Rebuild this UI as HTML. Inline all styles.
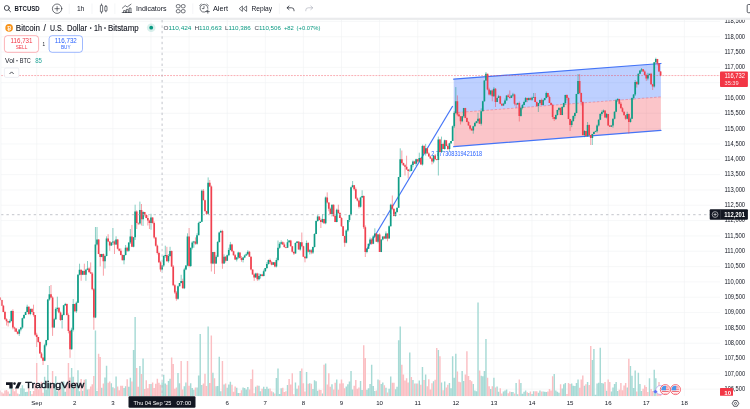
<!DOCTYPE html>
<html><head><meta charset="utf-8"><title>BTCUSD</title>
<style>html,body{margin:0;padding:0;background:#fff;width:750px;height:409px;overflow:hidden}svg{will-change:transform;opacity:0.999;filter:blur(0.35px)}svg text{font-family:"Liberation Sans",sans-serif}</style></head>
<body>
<svg width="750" height="409" viewBox="0 0 750 409" style="display:block;font-family:'Liberation Sans',sans-serif">
<rect width="750" height="409" fill="#fff"/>
<path d="M36.7 20V396.3M74.8 20V396.3M112.9 20V396.3M151 20V396.3M189.1 20V396.3M227.2 20V396.3M265.3 20V396.3M303.4 20V396.3M341.5 20V396.3M379.6 20V396.3M417.7 20V396.3M455.8 20V396.3M493.9 20V396.3M532 20V396.3M570.1 20V396.3M608.2 20V396.3M646.3 20V396.3M684.4 20V396.3M1 21.38H720M1 36.7H720M1 52.03H720M1 67.35H720M1 82.67H720M1 98H720M1 113.33H720M1 128.65H720M1 143.97H720M1 159.3H720M1 174.62H720M1 189.95H720M1 205.27H720M1 220.6H720M1 235.93H720M1 251.25H720M1 266.57H720M1 281.9H720M1 297.22H720M1 312.55H720M1 327.88H720M1 343.2H720M1 358.52H720M1 373.85H720M1 389.17H720" stroke="#f0f1f4" stroke-width="0.6" fill="none"/>
<path d="M8.99 396.3V393.65h1.44V396.3zM10.58 396.3V385.81h1.44V396.3zM18.52 396.3V394.13h1.44V396.3zM20.11 396.3V388.21h1.44V396.3zM21.7 396.3V385.33h1.44V396.3zM23.28 396.3V388.38h1.44V396.3zM24.87 396.3V391.89h1.44V396.3zM26.46 396.3V391.64h1.44V396.3zM29.63 396.3V391.09h1.44V396.3zM43.92 396.3V376.85h1.44V396.3zM45.51 396.3V389.45h1.44V396.3zM47.09 396.3V365h1.44V396.3zM48.68 396.3V383.42h1.44V396.3zM53.44 396.3V382.95h1.44V396.3zM55.03 396.3V376.18h1.44V396.3zM56.62 396.3V391.3h1.44V396.3zM61.38 396.3V383.49h1.44V396.3zM62.97 396.3V381.47h1.44V396.3zM64.56 396.3V391.86h1.44V396.3zM70.91 396.3V368h1.44V396.3zM72.49 396.3V376.84h1.44V396.3zM75.67 396.3V385.06h1.44V396.3zM77.26 396.3V370.25h1.44V396.3zM78.84 396.3V391.29h1.44V396.3zM82.02 396.3V390.85h1.44V396.3zM85.19 396.3V379.18h1.44V396.3zM86.78 396.3V389.49h1.44V396.3zM94.72 396.3V330.5h1.44V396.3zM96.31 396.3V390.96h1.44V396.3zM101.07 396.3V387.85h1.44V396.3zM104.24 396.3V377.45h1.44V396.3zM105.83 396.3V365.86h1.44V396.3zM110.59 396.3V383.28h1.44V396.3zM112.18 396.3V387.32h1.44V396.3zM115.36 396.3V376.42h1.44V396.3zM123.29 396.3V387.89h1.44V396.3zM124.88 396.3V386.14h1.44V396.3zM128.06 396.3V386.7h1.44V396.3zM129.64 396.3V377.66h1.44V396.3zM132.82 396.3V350h1.44V396.3zM134.41 396.3V317h1.44V396.3zM139.17 396.3V366h1.44V396.3zM142.34 396.3V358.6h1.44V396.3zM150.28 396.3V383.93h1.44V396.3zM161.39 396.3V382.26h1.44V396.3zM162.98 396.3V374.87h1.44V396.3zM164.57 396.3V383.53h1.44V396.3zM167.74 396.3V380.94h1.44V396.3zM169.33 396.3V378.83h1.44V396.3zM177.27 396.3V372.91h1.44V396.3zM178.86 396.3V383.26h1.44V396.3zM183.62 396.3V386.21h1.44V396.3zM185.21 396.3V382.52h1.44V396.3zM189.97 396.3V383.14h1.44V396.3zM191.56 396.3V387.9h1.44V396.3zM193.14 396.3V389.72h1.44V396.3zM196.32 396.3V387.46h1.44V396.3zM197.91 396.3V375.42h1.44V396.3zM199.49 396.3V334h1.44V396.3zM201.08 396.3V385.06h1.44V396.3zM207.43 396.3V326.4h1.44V396.3zM212.19 396.3V372.75h1.44V396.3zM215.37 396.3V386.33h1.44V396.3zM216.96 396.3V385.92h1.44V396.3zM218.54 396.3V356.7h1.44V396.3zM220.13 396.3V391.32h1.44V396.3zM223.31 396.3V384.52h1.44V396.3zM226.48 396.3V387.76h1.44V396.3zM228.07 396.3V384.43h1.44V396.3zM229.66 396.3V381.8h1.44V396.3zM236.01 396.3V387.65h1.44V396.3zM237.59 396.3V392.98h1.44V396.3zM242.36 396.3V387.6h1.44V396.3zM243.94 396.3V387.92h1.44V396.3zM245.53 396.3V389.42h1.44V396.3zM247.12 396.3V387h1.44V396.3zM255.06 396.3V386.68h1.44V396.3zM258.23 396.3V385.76h1.44V396.3zM259.82 396.3V391.3h1.44V396.3zM262.99 396.3V386.66h1.44V396.3zM264.58 396.3V389.09h1.44V396.3zM266.17 396.3V386.7h1.44V396.3zM267.76 396.3V388.83h1.44V396.3zM272.52 396.3V392.29h1.44V396.3zM275.69 396.3V378h1.44V396.3zM277.28 396.3V368.4h1.44V396.3zM278.87 396.3V393.89h1.44V396.3zM280.46 396.3V388.15h1.44V396.3zM286.81 396.3V384.99h1.44V396.3zM294.74 396.3V382.45h1.44V396.3zM296.33 396.3V388.85h1.44V396.3zM299.51 396.3V370.9h1.44V396.3zM305.86 396.3V372h1.44V396.3zM309.03 396.3V383.2h1.44V396.3zM312.21 396.3V389.11h1.44V396.3zM313.79 396.3V380.34h1.44V396.3zM315.38 396.3V381.24h1.44V396.3zM316.97 396.3V390.77h1.44V396.3zM321.73 396.3V393.4h1.44V396.3zM324.91 396.3V363.5h1.44V396.3zM331.26 396.3V384.36h1.44V396.3zM336.02 396.3V379.4h1.44V396.3zM345.54 396.3V386.5h1.44V396.3zM347.13 396.3V384.28h1.44V396.3zM348.72 396.3V381.51h1.44V396.3zM350.31 396.3V370.9h1.44V396.3zM351.89 396.3V389.4h1.44V396.3zM359.83 396.3V380.9h1.44V396.3zM361.42 396.3V390.09h1.44V396.3zM366.18 396.3V389.71h1.44V396.3zM367.77 396.3V388.25h1.44V396.3zM369.36 396.3V383.94h1.44V396.3zM370.94 396.3V364.7h1.44V396.3zM372.53 396.3V386.02h1.44V396.3zM374.12 396.3V391.01h1.44V396.3zM377.29 396.3V379.43h1.44V396.3zM380.47 396.3V383.97h1.44V396.3zM382.06 396.3V382.44h1.44V396.3zM385.23 396.3V387.75h1.44V396.3zM388.41 396.3V388.8h1.44V396.3zM389.99 396.3V376.51h1.44V396.3zM394.76 396.3V389.34h1.44V396.3zM396.34 396.3V386.87h1.44V396.3zM397.93 396.3V340.3h1.44V396.3zM399.52 396.3V326.4h1.44V396.3zM409.04 396.3V352.5h1.44V396.3zM412.22 396.3V379.99h1.44V396.3zM415.39 396.3V383.42h1.44V396.3zM418.57 396.3V380.58h1.44V396.3zM421.74 396.3V366.88h1.44V396.3zM424.92 396.3V374.5h1.44V396.3zM432.86 396.3V381.23h1.44V396.3zM437.62 396.3V350h1.44V396.3zM440.79 396.3V382.59h1.44V396.3zM443.97 396.3V381.58h1.44V396.3zM448.73 396.3V383.02h1.44V396.3zM450.32 396.3V388.13h1.44V396.3zM451.91 396.3V356.2h1.44V396.3zM453.49 396.3V377.67h1.44V396.3zM455.08 396.3V353.7h1.44V396.3zM461.43 396.3V370.9h1.44V396.3zM463.02 396.3V381.04h1.44V396.3zM472.54 396.3V383.98h1.44V396.3zM474.13 396.3V390.51h1.44V396.3zM475.72 396.3V391.13h1.44V396.3zM477.31 396.3V302.4h1.44V396.3zM480.48 396.3V375.74h1.44V396.3zM482.07 396.3V376.25h1.44V396.3zM483.66 396.3V371h1.44V396.3zM485.24 396.3V339h1.44V396.3zM490.01 396.3V388.94h1.44V396.3zM493.18 396.3V377.7h1.44V396.3zM496.36 396.3V386.45h1.44V396.3zM497.94 396.3V391.67h1.44V396.3zM502.71 396.3V391.49h1.44V396.3zM504.29 396.3V390.59h1.44V396.3zM505.88 396.3V389.62h1.44V396.3zM510.64 396.3V392.1h1.44V396.3zM512.23 396.3V391.88h1.44V396.3zM515.41 396.3V383h1.44V396.3zM517 396.3V394.26h1.44V396.3zM520.17 396.3V383h1.44V396.3zM521.76 396.3V393.67h1.44V396.3zM523.35 396.3V391.67h1.44V396.3zM524.93 396.3V390.44h1.44V396.3zM528.11 396.3V393.06h1.44V396.3zM531.28 396.3V393.94h1.44V396.3zM532.87 396.3V391.29h1.44V396.3zM537.63 396.3V392.83h1.44V396.3zM539.22 396.3V390.55h1.44V396.3zM542.39 396.3V391.42h1.44V396.3zM543.98 396.3V391.82h1.44V396.3zM545.57 396.3V392.1h1.44V396.3zM553.51 396.3V374.1h1.44V396.3zM555.1 396.3V390.45h1.44V396.3zM556.68 396.3V391.63h1.44V396.3zM558.27 396.3V392.69h1.44V396.3zM561.45 396.3V388.44h1.44V396.3zM563.03 396.3V384.18h1.44V396.3zM564.62 396.3V383h1.44V396.3zM570.97 396.3V383.58h1.44V396.3zM572.56 396.3V385.64h1.44V396.3zM574.14 396.3V385.99h1.44V396.3zM575.73 396.3V383h1.44V396.3zM577.32 396.3V379.39h1.44V396.3zM583.67 396.3V385.65h1.44V396.3zM586.85 396.3V381.99h1.44V396.3zM591.61 396.3V360h1.44V396.3zM593.2 396.3V349h1.44V396.3zM594.78 396.3V394.67h1.44V396.3zM596.37 396.3V383.48h1.44V396.3zM597.96 396.3V382.73h1.44V396.3zM599.54 396.3V347.7h1.44V396.3zM601.13 396.3V383h1.44V396.3zM602.72 396.3V383.47h1.44V396.3zM605.89 396.3V390.69h1.44V396.3zM610.66 396.3V391.56h1.44V396.3zM612.25 396.3V387.61h1.44V396.3zM613.83 396.3V384h1.44V396.3zM615.42 396.3V382h1.44V396.3zM617.01 396.3V391.01h1.44V396.3zM626.53 396.3V387.59h1.44V396.3zM629.71 396.3V366h1.44V396.3zM631.29 396.3V375.8h1.44V396.3zM632.88 396.3V388.01h1.44V396.3zM634.47 396.3V370.5h1.44V396.3zM637.64 396.3V372.7h1.44V396.3zM639.23 396.3V384h1.44V396.3zM640.82 396.3V391h1.44V396.3zM648.76 396.3V378.3h1.44V396.3zM653.52 396.3V369.7h1.44V396.3zM655.11 396.3V378.3h1.44V396.3z" fill="#a6dad5"/>
<path d="M-0.53 396.3V390.38h1.44V396.3zM1.06 396.3V392.17h1.44V396.3zM2.64 396.3V393.41h1.44V396.3zM4.23 396.3V390.52h1.44V396.3zM5.82 396.3V390.09h1.44V396.3zM7.41 396.3V391.55h1.44V396.3zM12.17 396.3V389.02h1.44V396.3zM13.76 396.3V391.21h1.44V396.3zM15.35 396.3V388.66h1.44V396.3zM16.93 396.3V393.41h1.44V396.3zM28.05 396.3V388.14h1.44V396.3zM31.22 396.3V394.37h1.44V396.3zM32.81 396.3V391.05h1.44V396.3zM34.39 396.3V384.04h1.44V396.3zM35.98 396.3V363h1.44V396.3zM37.57 396.3V389.34h1.44V396.3zM39.16 396.3V388.7h1.44V396.3zM40.74 396.3V381.66h1.44V396.3zM42.33 396.3V392.84h1.44V396.3zM50.27 396.3V385.96h1.44V396.3zM51.86 396.3V371h1.44V396.3zM58.21 396.3V389.15h1.44V396.3zM59.79 396.3V387.17h1.44V396.3zM66.14 396.3V384.38h1.44V396.3zM67.73 396.3V363h1.44V396.3zM69.32 396.3V377.41h1.44V396.3zM74.08 396.3V382.18h1.44V396.3zM80.43 396.3V378.93h1.44V396.3zM83.61 396.3V379.83h1.44V396.3zM88.37 396.3V389.33h1.44V396.3zM89.96 396.3V386.5h1.44V396.3zM91.54 396.3V384.23h1.44V396.3zM93.13 396.3V376.12h1.44V396.3zM97.89 396.3V353.7h1.44V396.3zM99.48 396.3V357h1.44V396.3zM102.66 396.3V383.49h1.44V396.3zM107.42 396.3V382.73h1.44V396.3zM109.01 396.3V381.49h1.44V396.3zM113.77 396.3V388.37h1.44V396.3zM116.94 396.3V386.48h1.44V396.3zM118.53 396.3V390.17h1.44V396.3zM120.12 396.3V385.82h1.44V396.3zM121.71 396.3V385.78h1.44V396.3zM126.47 396.3V379.21h1.44V396.3zM131.23 396.3V381.6h1.44V396.3zM136 396.3V368h1.44V396.3zM137.58 396.3V386.64h1.44V396.3zM140.76 396.3V373.93h1.44V396.3zM143.93 396.3V389.04h1.44V396.3zM145.52 396.3V380.3h1.44V396.3zM147.11 396.3V388.32h1.44V396.3zM148.69 396.3V383.96h1.44V396.3zM151.87 396.3V382.54h1.44V396.3zM153.46 396.3V387.97h1.44V396.3zM155.04 396.3V383.79h1.44V396.3zM156.63 396.3V378.77h1.44V396.3zM158.22 396.3V382.77h1.44V396.3zM159.81 396.3V384.76h1.44V396.3zM166.16 396.3V384.79h1.44V396.3zM170.92 396.3V357.4h1.44V396.3zM172.51 396.3V364h1.44V396.3zM174.09 396.3V388.87h1.44V396.3zM175.68 396.3V387.52h1.44V396.3zM180.44 396.3V361h1.44V396.3zM182.03 396.3V389.53h1.44V396.3zM186.79 396.3V361h1.44V396.3zM188.38 396.3V385.67h1.44V396.3zM194.73 396.3V387.62h1.44V396.3zM202.67 396.3V383.52h1.44V396.3zM204.26 396.3V373.85h1.44V396.3zM205.84 396.3V385.97h1.44V396.3zM209.02 396.3V382.97h1.44V396.3zM210.61 396.3V335.4h1.44V396.3zM213.78 396.3V378.35h1.44V396.3zM221.72 396.3V361h1.44V396.3zM224.89 396.3V383.48h1.44V396.3zM231.24 396.3V384.87h1.44V396.3zM232.83 396.3V391.85h1.44V396.3zM234.42 396.3V386.49h1.44V396.3zM239.18 396.3V392.91h1.44V396.3zM240.77 396.3V390.29h1.44V396.3zM248.71 396.3V389.54h1.44V396.3zM250.29 396.3V379h1.44V396.3zM251.88 396.3V369.6h1.44V396.3zM253.47 396.3V393.19h1.44V396.3zM256.64 396.3V385.56h1.44V396.3zM261.41 396.3V388.83h1.44V396.3zM269.34 396.3V388.5h1.44V396.3zM270.93 396.3V391.15h1.44V396.3zM274.11 396.3V393.54h1.44V396.3zM282.04 396.3V387.87h1.44V396.3zM283.63 396.3V392.06h1.44V396.3zM285.22 396.3V391.15h1.44V396.3zM288.39 396.3V379h1.44V396.3zM289.98 396.3V384.58h1.44V396.3zM291.57 396.3V373.3h1.44V396.3zM293.16 396.3V394.3h1.44V396.3zM297.92 396.3V385.39h1.44V396.3zM301.09 396.3V368.4h1.44V396.3zM302.68 396.3V383.26h1.44V396.3zM304.27 396.3V391.57h1.44V396.3zM307.44 396.3V383.84h1.44V396.3zM310.62 396.3V383.83h1.44V396.3zM318.56 396.3V389.79h1.44V396.3zM320.14 396.3V389.94h1.44V396.3zM323.32 396.3V364.7h1.44V396.3zM326.49 396.3V384.62h1.44V396.3zM328.08 396.3V373.3h1.44V396.3zM329.67 396.3V386.66h1.44V396.3zM332.84 396.3V389.61h1.44V396.3zM334.43 396.3V382.86h1.44V396.3zM337.61 396.3V389.69h1.44V396.3zM339.19 396.3V383.61h1.44V396.3zM340.78 396.3V379.4h1.44V396.3zM342.37 396.3V383.14h1.44V396.3zM343.96 396.3V388.24h1.44V396.3zM353.48 396.3V385.67h1.44V396.3zM355.07 396.3V379.99h1.44V396.3zM356.66 396.3V388.67h1.44V396.3zM358.24 396.3V387.6h1.44V396.3zM363.01 396.3V345.2h1.44V396.3zM364.59 396.3V358h1.44V396.3zM375.71 396.3V390.55h1.44V396.3zM378.88 396.3V380.26h1.44V396.3zM383.64 396.3V385.36h1.44V396.3zM386.82 396.3V392.41h1.44V396.3zM391.58 396.3V382.77h1.44V396.3zM393.17 396.3V382.76h1.44V396.3zM401.11 396.3V364.7h1.44V396.3zM402.69 396.3V374.5h1.44V396.3zM404.28 396.3V380.55h1.44V396.3zM405.87 396.3V378.15h1.44V396.3zM407.46 396.3V382.58h1.44V396.3zM410.63 396.3V377h1.44V396.3zM413.81 396.3V383.43h1.44V396.3zM416.98 396.3V383.4h1.44V396.3zM420.16 396.3V384.69h1.44V396.3zM423.33 396.3V380.12h1.44V396.3zM426.51 396.3V386.29h1.44V396.3zM428.09 396.3V379.19h1.44V396.3zM429.68 396.3V389.49h1.44V396.3zM431.27 396.3V383.29h1.44V396.3zM434.44 396.3V379.74h1.44V396.3zM436.03 396.3V348.1h1.44V396.3zM439.21 396.3V356.2h1.44V396.3zM442.38 396.3V390.15h1.44V396.3zM445.56 396.3V387.51h1.44V396.3zM447.14 396.3V384.77h1.44V396.3zM456.67 396.3V371.6h1.44V396.3zM458.26 396.3V381.77h1.44V396.3zM459.84 396.3V382.27h1.44V396.3zM464.61 396.3V374.39h1.44V396.3zM466.19 396.3V351.3h1.44V396.3zM467.78 396.3V376h1.44V396.3zM469.37 396.3V379.88h1.44V396.3zM470.96 396.3V381.36h1.44V396.3zM478.89 396.3V370.4h1.44V396.3zM486.83 396.3V377.7h1.44V396.3zM488.42 396.3V386.18h1.44V396.3zM491.59 396.3V386.17h1.44V396.3zM494.77 396.3V387.48h1.44V396.3zM499.53 396.3V388.2h1.44V396.3zM501.12 396.3V393.53h1.44V396.3zM507.47 396.3V393.35h1.44V396.3zM509.06 396.3V391.62h1.44V396.3zM513.82 396.3V393.39h1.44V396.3zM518.58 396.3V379.5h1.44V396.3zM526.52 396.3V392.36h1.44V396.3zM529.7 396.3V391.4h1.44V396.3zM534.46 396.3V391.37h1.44V396.3zM536.04 396.3V391.17h1.44V396.3zM540.81 396.3V391.53h1.44V396.3zM547.16 396.3V391.62h1.44V396.3zM548.75 396.3V389h1.44V396.3zM550.33 396.3V390.44h1.44V396.3zM551.92 396.3V376.3h1.44V396.3zM559.86 396.3V384.35h1.44V396.3zM566.21 396.3V393.92h1.44V396.3zM567.79 396.3V383h1.44V396.3zM569.38 396.3V384.02h1.44V396.3zM578.91 396.3V387.71h1.44V396.3zM580.5 396.3V379.5h1.44V396.3zM582.08 396.3V375.4h1.44V396.3zM585.26 396.3V384.16h1.44V396.3zM588.43 396.3V385.06h1.44V396.3zM590.02 396.3V346h1.44V396.3zM604.31 396.3V382h1.44V396.3zM607.48 396.3V379.5h1.44V396.3zM609.07 396.3V382h1.44V396.3zM618.6 396.3V389.75h1.44V396.3zM620.18 396.3V383h1.44V396.3zM621.77 396.3V390.28h1.44V396.3zM623.36 396.3V385.51h1.44V396.3zM624.94 396.3V383h1.44V396.3zM628.12 396.3V358.7h1.44V396.3zM636.06 396.3V391.62h1.44V396.3zM642.41 396.3V388.66h1.44V396.3zM644 396.3V385.23h1.44V396.3zM645.58 396.3V387h1.44V396.3zM647.17 396.3V392h1.44V396.3zM650.35 396.3V389h1.44V396.3zM651.93 396.3V391h1.44V396.3zM656.69 396.3V391.5h1.44V396.3zM658.28 396.3V382h1.44V396.3zM659.87 396.3V389h1.44V396.3z" fill="#fbbfc3"/>
<path d="M453.7 79.1L660.9 63.5L660.9 96.9L453.7 112.8z" fill="#2962ff" fill-opacity="0.3"/>
<path d="M453.7 112.8L660.9 96.9L660.9 130.4L453.7 146.6z" fill="#f23645" fill-opacity="0.29"/>
<path d="M453.7 112.8L660.9 96.9" stroke="#f23645" stroke-opacity="0.5" stroke-width="0.7" stroke-dasharray="2.6 1.5" fill="none"/>
<path d="M453.7 79.1L660.9 63.5M453.7 146.6L660.9 130.4" stroke="#4474f7" stroke-width="1.25" fill="none" stroke-linecap="round"/>
<path d="M365.8 251L452.7 106" stroke="#4474f7" stroke-width="1.2" fill="none"/>
<text x="431.3" y="155.7" font-size="6.3" fill="#2962ff" textLength="50.8" lengthAdjust="spacingAndGlyphs">2.777308319421618</text>
<path d="M9.71 319.33V323.26M11.3 310.49V321.5M19.24 329.29V335.9M20.83 326.94V331.32M22.41 317.64V328.8M24 314.38V318.94M25.59 311.66V315.11M27.18 304.7V312.25M30.35 308.38V315.22M44.64 343.76V361.16M46.23 339.88V346.5M47.81 298.88V340.61M49.4 286V300.76M54.16 317.84V327.84M55.75 307.46V319.88M57.34 296.7V311.42M62.1 313.9V328.5M63.69 304.95V315.43M65.28 302.8V305.82M71.63 327.73V349.83M73.21 299V331.51M76.39 301.49V312.91M77.98 274.15V302.95M79.56 263.7V275.35M82.74 270.34V275.11M85.91 268.92V280.8M87.5 261V270.24M95.44 227V318.13M97.03 227V245.46M101.79 253.82V257.28M104.96 255.24V268.5M106.55 236.39V256.32M111.31 242.16V245.99M112.9 228V245.06M116.08 236.3V244.84M124.01 254.77V264.3M125.6 244.97V255.49M128.78 242.43V251.75M130.36 229V243.99M133.54 236.96V247.32M135.13 204.7V239.98M139.89 201.6V224.79M143.06 211.2V226M151 213.8V229.7M162.11 265.5V270.74M163.7 255.33V267.09M165.29 245.7V257.66M168.46 254.13V262.71M170.05 246.8V256.7M177.99 285.46V299.72M179.58 282.98V286.32M181.16 274.8V283.36M184.34 267.75V289.12M185.93 265.18V270.21M187.51 233.3V266.33M190.69 247.74V267.04M192.28 241.11V249.41M193.86 240.83V247.8M197.04 233.24V244.77M198.63 221.77V235.21M200.21 221.51V223.03M201.8 189.5V221.93M208.15 177.4V214.77M212.91 251.99V264.21M216.09 255.14V264.04M217.68 240.98V257.27M219.26 231.6V242.67M220.85 229.8V232.62M224.03 254.34V263.73M227.2 254.58V260.98M228.79 247.77V256.18M230.38 241.9V250.46M236.73 257.05V261.48M238.31 251.7V258.81M243.08 257.03V262.42M244.66 254.57V258.19M246.25 252.41V255.62M247.84 250.2V255.2M255.78 272.71V277.7M258.95 273.33V280.44M260.54 273.86V278.59M263.71 269.52V276.43M265.3 267.93V271.72M266.89 261.96V269.03M268.48 259.58V264.6M273.24 262.01V264.88M276.41 257.78V267.44M278 240.5V261.25M279.59 242.1V248.79M281.18 240.38V244.61M287.53 239V247.92M289.12 240.04V242.58M295.46 242.37V253.5M297.05 241.29V243.16M300.23 242.07V250.66M306.58 240.5V258.36M309.75 249.12V254.43M312.93 246.62V253.97M314.51 233.24V247.52M316.1 220.5V234.18M317.69 215.02V221.71M322.45 214V223.08M325.63 196.5V224.27M331.98 204.61V216.5M336.74 208.63V222.29M346.26 229.35V243.33M347.85 220.1V231.86M349.44 214.56V222.11M351.03 186.52V215.57M352.61 181V187.25M360.55 196.72V207.64M362.14 190.3V197.55M366.9 248.17V253.3M368.49 243.67V249.05M370.08 237.5V244.4M373.25 235.19V244.21M374.84 228.3V237.58M378.01 234.01V243.29M381.19 239.4V252.21M382.78 236.44V240.36M385.95 231.4V239.27M389.13 225.32V238.64M390.71 203.7V226.5M395.48 211.54V216.61M397.06 207.76V212.85M398.65 176.86V207.87M400.24 148.3V177.29M409.76 168.68V171.32M411.35 163.9V171.12M412.94 160.38V167.38M416.11 158.7V166.04M419.29 152.7V162.45M422.46 144.7V165.58M425.64 143.9V155.62M433.58 154.93V163.25M438.34 136.6V175.5M441.51 136.6V152.72M444.69 139.62V149.81M449.45 142.68V151.28M451.04 141V143.99M452.63 125.55V141.04M454.21 111.15V127.99M455.8 87.1V114.12M462.15 116.08V122.29M463.74 107.88V117.64M473.26 125.73V133.7M474.85 121.96V126.55M476.44 120.91V123.42M478.03 112.9V123.3M481.2 108.41V125.57M482.79 100.78V111.37M484.38 80.35V101.71M485.96 72V80.87M490.73 90.4V95.63M493.9 87.1V96.93M497.08 97.49V102.1M498.66 94.89V98.03M503.43 102.82V106.04M505.01 98.54V104.25M506.6 95.25V100.55M511.36 95.48V98.01M512.95 92.82V96.94M517.72 102.55V104.97M520.89 106.51V116.57M522.48 103.98V109.36M524.07 100.78V105.34M525.65 97V102.43M528.83 97.48V100.67M532 96.69V100.87M533.59 93V97.95M538.35 102.88V112M539.94 99.65V104.05M543.12 99.15V105.76M544.7 97.93V100.75M546.29 91.6V98.38M555.82 114.45V120M557.4 109.73V115.61M558.99 107V111.57M562.17 106.15V115.16M563.75 102.69V107.66M565.34 94.7V104.66M571.69 119.76V127.2M573.28 115.39V121.8M574.87 112.38V118.63M576.45 93.8V113.25M578.04 74V94.37M584.39 130.08V137.25M587.57 122V136.84M592.33 133.83V145M593.92 131.51V134.14M595.5 130.64V132.15M597.09 124.45V132.76M598.68 119.33V126.56M600.26 113.02V120.14M601.85 110.44V115.71M603.44 109.5V112.89M606.62 113V118.47M611.38 124.92V127.07M612.97 118.66V127.74M614.55 111.38V119.38M616.14 98.96V112.16M617.73 98V101.88M627.25 111.71V119.37M630.43 117.64V122.6M632.01 97.43V118.98M633.6 93.97V99.55M635.19 80V96.04M638.37 73.4V85.06M639.95 70.32V74.2M641.54 68V71.98M647.89 72.79V80.38M649.48 73.76V75.42M654.24 62.2V87.53M655.83 57.7V63.33" stroke="#0f9d86" stroke-width="0.5" fill="none"/>
<path d="M0.19 297.24V300.51M1.78 299.77V306.12M3.36 304.87V312.21M4.95 310.89V319.72M6.54 318.26V325.5M8.13 320.91V326.5M12.89 309.31V329.34M14.48 326.71V331.7M16.07 328.29V331.75M17.65 331.18V334.44M28.77 306.35V314.96M31.94 308.09V312.24M33.53 304.7V316.59M35.11 315.05V336.11M36.7 332.79V347M38.29 336.79V342.82M39.88 341.5V353.56M41.46 352.04V358.53M43.05 357.03V365M50.99 285V298.03M52.58 296.21V335.9M58.93 307.34V313.34M60.51 311.48V320.88M66.86 303.48V315.55M68.45 313.43V333.3M70.04 329.94V357.8M74.8 303.82V312.32M81.15 269.68V280.8M84.33 263.7V274.73M89.09 267.22V272.33M90.68 262.4V273.7M92.26 272V290.33M93.85 288.04V329.7M98.61 239.05V254.14M100.2 253.85V266.4M103.38 253.43V275.7M108.14 234.2V241.87M109.73 241.49V250.8M114.49 240.38V254M117.66 238.97V249.46M119.25 248.52V251.32M120.84 248.37V255.36M122.43 254.45V260.3M127.19 246.69V251.97M131.95 224.9V247.05M136.72 210.31V229M138.3 222.32V225.09M141.48 204V225.5M144.65 211.91V216.53M146.24 213.95V218.29M147.83 215.25V225.5M149.41 219.59V229M152.59 217.28V223.64M154.18 221.47V238.91M155.76 236.79V246.66M157.35 244.67V254.47M158.94 251.73V263.05M160.53 260.83V271.7M166.88 246.8V261.48M171.64 250.5V266.91M173.23 265V286.22M174.81 284.06V293.89M176.4 290.95V300.7M182.75 278.7V288.69M189.1 228V267.33M195.45 237.4V244.78M203.39 189.01V200.24M204.98 199.67V212M206.56 210.8V214.96M209.74 180V187.1M211.33 185.49V271.5M214.5 251.83V274M222.44 229.82V268.8M225.61 256.06V262.64M231.96 243.82V252.05M233.55 250.63V255.63M235.14 253.97V260.06M239.9 252.3V258.47M241.49 256.06V261.76M249.43 250.89V256.79M251.01 256.41V270.43M252.6 269.57V274.6M254.19 273.38V280.9M257.37 272.75V280.9M262.13 273.88V276.48M270.06 258.57V264.11M271.65 260.9V265.37M274.83 261.9V267.37M282.76 241.33V244.86M284.35 242.44V247.75M285.94 246.94V248.32M290.7 239.86V246.41M292.29 245.88V252.59M293.88 251.75V255M298.64 241.4V249.58M301.81 232.5V247.25M303.4 245.77V256.89M304.99 256.25V262.3M308.16 242.07V252.54M311.34 249.16V254.18M319.28 216.48V220.6M320.86 218.35V228M324.04 218.85V223.93M327.21 192.4V203.51M328.8 202.39V211.35M330.39 207.56V214.12M333.56 204.36V216.87M335.15 215.02V222.11M338.33 204.7V214.03M339.91 212.12V218.02M341.5 217.15V226.84M343.09 226.09V236.06M344.68 235.76V246.8M354.2 184.97V190.72M355.79 187.47V199.02M357.38 197.41V201.48M358.96 200.41V208.52M363.73 195.37V229.06M365.31 225.47V257M371.66 238.1V244.86M376.43 233.32V241.71M379.6 233.26V251.92M384.36 235.8V238.95M387.54 233.23V241.32M392.3 195.5V210.18M393.89 208.55V216.31M401.83 150.5V164.35M403.41 162.63V165.94M405 164.09V175.5M406.59 155.7V169.71M408.18 169.08V178.4M414.53 160.75V163.95M417.7 158.98V162.78M420.88 157.39V164.66M424.05 144.92V154.52M427.23 148.08V153.52M428.81 152.34V156.43M430.4 155.59V158.86M431.99 158.02V164.5M435.16 154.03V159.32M436.75 159.03V160.43M439.93 138.83V152.48M443.1 142.67V149.01M446.28 140.25V146.31M447.86 144.48V150.13M457.39 95.4V116.22M458.98 113.42V116.66M460.56 116.14V124.5M465.33 107.83V118.21M466.91 117.43V122.23M468.5 121.1V125.56M470.09 124.92V130.27M471.68 127.93V130.52M479.61 118V123.71M487.55 73.75V90.37M489.14 87.71V95.49M492.31 89.36V101.3M495.49 88.05V107M500.25 95.85V104.23M501.84 103.6V106.15M508.19 93.86V97.32M509.78 90.4V98.69M514.54 93.7V105.45M516.13 102.96V108M519.3 101.5V121.5M527.24 97.75V102.23M530.42 97.47V100.25M535.18 93V102.2M536.76 101.46V106.46M541.53 98.61V105.37M547.88 92.93V97.2M549.47 95.5V103.02M551.05 102.32V105.37M552.64 103.87V119.08M554.23 117.06V121M560.58 107.32V115.02M566.93 94.31V100.37M568.51 97.36V119.12M570.1 118.93V131M579.63 74V94.24M581.22 92.62V105.44M582.8 101.19V135.47M585.98 130.99V136.25M589.15 124.37V135.64M590.74 134.96V145M605.03 110.4V117.65M608.2 114.07V125.89M609.79 125.25V126.78M619.32 98.77V104.43M620.9 102.02V108.34M622.49 107.07V112.51M624.08 111.59V115.28M625.66 115.09V119.83M628.84 113.52V133.6M636.78 81.2V87.6M643.13 69.19V71.87M644.72 70.26V75.27M646.3 73.72V80.89M651.07 72.83V84.87M652.65 83.93V90M657.41 58.88V65.44M659 63.24V71.94M660.59 71.05V76.2" stroke="#f0414f" stroke-width="0.5" fill="none"/>
<path d="M8.86 321h1.7v1.4h-1.7zM10.45 311h1.7v10h-1.7zM18.39 329.6h1.7v4.2h-1.7zM19.98 327.6h1.7v2h-1.7zM21.56 318.2h1.7v9.4h-1.7zM23.15 315h1.7v3.2h-1.7zM24.74 312h1.7v3h-1.7zM26.33 306.8h1.7v5.2h-1.7zM29.5 308.9h1.7v5.1h-1.7zM43.79 345.2h1.7v15.6h-1.7zM45.38 340h1.7v5.2h-1.7zM46.96 299.5h1.7v40.5h-1.7zM48.55 294.3h1.7v5.2h-1.7zM53.31 319.3h1.7v8.3h-1.7zM54.9 308.9h1.7v10.4h-1.7zM56.49 307.7h1.7v1.2h-1.7zM61.25 315h1.7v4.9h-1.7zM62.84 305.2h1.7v9.8h-1.7zM64.43 304h1.7v1.2h-1.7zM70.78 329.7h1.7v19.5h-1.7zM72.36 304h1.7v25.7h-1.7zM75.54 302.8h1.7v8.5h-1.7zM77.13 274.7h1.7v28.1h-1.7zM78.72 269.8h1.7v4.9h-1.7zM81.89 271h1.7v3.7h-1.7zM85.06 269.8h1.7v4.9h-1.7zM86.65 268.6h1.7v1.2h-1.7zM94.59 244.6h1.7v72.9h-1.7zM96.18 239.4h1.7v5.2h-1.7zM100.94 254h1.7v3h-1.7zM104.11 256h1.7v5.2h-1.7zM105.7 238.4h1.7v17.6h-1.7zM110.47 242.5h1.7v3.1h-1.7zM112.05 241.5h1.7v1h-1.7zM115.23 239.4h1.7v5.2h-1.7zM123.16 255h1.7v5.2h-1.7zM124.75 247.7h1.7v7.3h-1.7zM127.93 242.5h1.7v8.3h-1.7zM129.51 236.5h1.7v6h-1.7zM132.69 237.3h1.7v9.4h-1.7zM134.28 211.4h1.7v25.9h-1.7zM139.04 210h1.7v13.6h-1.7zM142.22 212h1.7v7.3h-1.7zM150.15 217.5h1.7v5.5h-1.7zM161.26 265.5h1.7v4.1h-1.7zM162.85 256.1h1.7v9.4h-1.7zM164.44 255h1.7v1.1h-1.7zM167.61 256.1h1.7v5.2h-1.7zM169.2 250.9h1.7v5.2h-1.7zM177.14 286.2h1.7v12.5h-1.7zM178.73 283.1h1.7v3.1h-1.7zM180.31 281h1.7v2.1h-1.7zM183.49 269.6h1.7v18.7h-1.7zM185.08 265.5h1.7v4.1h-1.7zM186.66 236.4h1.7v29.1h-1.7zM189.84 247.8h1.7v18.2h-1.7zM191.43 242.6h1.7v5.2h-1.7zM193.01 241.5h1.7v1.1h-1.7zM196.19 235.2h1.7v8.5h-1.7zM197.78 223h1.7v12.2h-1.7zM199.36 221.7h1.7v1.3h-1.7zM200.95 190.8h1.7v30.9h-1.7zM207.3 182.8h1.7v30.9h-1.7zM212.06 252h1.7v11.4h-1.7zM215.24 256.7h1.7v6.7h-1.7zM216.83 241.9h1.7v14.8h-1.7zM218.41 232.5h1.7v9.4h-1.7zM220 231h1.7v1.5h-1.7zM223.18 256.7h1.7v6.7h-1.7zM226.35 255.3h1.7v5.4h-1.7zM227.94 250h1.7v5.3h-1.7zM229.53 244.6h1.7v5.4h-1.7zM235.88 257.5h1.7v1.9h-1.7zM237.47 252.6h1.7v4.9h-1.7zM242.23 257.5h1.7v2.5h-1.7zM243.81 255.5h1.7v2h-1.7zM245.4 254.3h1.7v1.2h-1.7zM246.99 251.8h1.7v2.5h-1.7zM254.93 273.6h1.7v4h-1.7zM258.1 276h1.7v3.3h-1.7zM259.69 274.5h1.7v1.5h-1.7zM262.86 271.2h1.7v4.8h-1.7zM264.45 268h1.7v3.2h-1.7zM266.04 263.9h1.7v4.1h-1.7zM267.63 259.9h1.7v4h-1.7zM272.39 262.3h1.7v2.4h-1.7zM275.56 259.9h1.7v6.5h-1.7zM277.15 247.8h1.7v12.1h-1.7zM278.74 243.8h1.7v4h-1.7zM280.33 242.2h1.7v1.6h-1.7zM286.68 242.2h1.7v5.6h-1.7zM288.26 240.5h1.7v1.7h-1.7zM294.61 243h1.7v10.5h-1.7zM296.2 241.4h1.7v1.6h-1.7zM299.38 242.2h1.7v7.2h-1.7zM305.73 243h1.7v15.3h-1.7zM308.9 250.2h1.7v1.6h-1.7zM312.08 247h1.7v5.6h-1.7zM313.66 234h1.7v13h-1.7zM315.25 221h1.7v13h-1.7zM316.84 216.5h1.7v4.5h-1.7zM321.6 219h1.7v3h-1.7zM324.78 197.5h1.7v25.7h-1.7zM331.13 204.7h1.7v9.2h-1.7zM335.89 209.8h1.7v12.3h-1.7zM345.41 230.4h1.7v12.3h-1.7zM347 220.1h1.7v10.3h-1.7zM348.59 215h1.7v5.1h-1.7zM350.18 187.2h1.7v27.8h-1.7zM351.76 185.2h1.7v2h-1.7zM359.7 197.5h1.7v9.2h-1.7zM361.29 196h1.7v1.5h-1.7zM366.05 248.8h1.7v3.1h-1.7zM367.64 243.7h1.7v5.1h-1.7zM369.23 239.6h1.7v4.1h-1.7zM372.4 236.5h1.7v7.2h-1.7zM373.99 233.4h1.7v3.1h-1.7zM377.16 234.5h1.7v7.2h-1.7zM380.34 239.6h1.7v12.3h-1.7zM381.93 236.5h1.7v3.1h-1.7zM385.1 233.4h1.7v5.2h-1.7zM388.28 226.3h1.7v12.3h-1.7zM389.86 204.7h1.7v21.6h-1.7zM394.63 212h1.7v4h-1.7zM396.21 207.8h1.7v4.2h-1.7zM397.8 177h1.7v30.8h-1.7zM399.39 159.3h1.7v17.7h-1.7zM408.91 170.75h1.7v0.5h-1.7zM410.5 165h1.7v6h-1.7zM412.09 161.5h1.7v3.5h-1.7zM415.26 159.3h1.7v4.4h-1.7zM418.44 157.9h1.7v3.6h-1.7zM421.61 146.1h1.7v18.4h-1.7zM424.79 148.3h1.7v5.2h-1.7zM432.73 155.7h1.7v5.8h-1.7zM437.49 139.5h1.7v20.5h-1.7zM440.66 144h1.7v8h-1.7zM443.84 140.3h1.7v8.7h-1.7zM448.6 143.2h1.7v5.8h-1.7zM450.19 141h1.7v2.2h-1.7zM451.78 126.2h1.7v14.8h-1.7zM453.36 112.9h1.7v13.3h-1.7zM454.95 101.3h1.7v11.6h-1.7zM461.3 116.2h1.7v5h-1.7zM462.89 107.9h1.7v8.3h-1.7zM472.41 126.2h1.7v4.2h-1.7zM474 122.9h1.7v3.3h-1.7zM475.59 121.2h1.7v1.7h-1.7zM477.18 118.7h1.7v2.5h-1.7zM480.35 111.2h1.7v12.5h-1.7zM481.94 101.3h1.7v9.9h-1.7zM483.53 80.5h1.7v20.8h-1.7zM485.11 73.8h1.7v6.7h-1.7zM489.88 90.4h1.7v4.2h-1.7zM493.05 88.8h1.7v7.5h-1.7zM496.23 98h1.7v4h-1.7zM497.81 96.3h1.7v1.7h-1.7zM502.58 103.7h1.7v1.7h-1.7zM504.16 100.4h1.7v3.3h-1.7zM505.75 95.4h1.7v5h-1.7zM510.51 95.5h1.7v2.5h-1.7zM512.1 94.6h1.7v0.9h-1.7zM516.87 103h1.7v1.6h-1.7zM520.04 108h1.7v8h-1.7zM521.63 105h1.7v3h-1.7zM523.22 102h1.7v3h-1.7zM524.8 98h1.7v4h-1.7zM527.98 98h1.7v2h-1.7zM531.15 97.7h1.7v2h-1.7zM532.74 97h1.7v0.7h-1.7zM537.5 103h1.7v3h-1.7zM539.09 100h1.7v3h-1.7zM542.26 100h1.7v5h-1.7zM543.85 98h1.7v2h-1.7zM545.44 93h1.7v5h-1.7zM554.97 115h1.7v4.1h-1.7zM556.55 110h1.7v5h-1.7zM558.14 108h1.7v2h-1.7zM561.32 107h1.7v8h-1.7zM562.9 103h1.7v4h-1.7zM564.49 95h1.7v8h-1.7zM570.84 121h1.7v4.1h-1.7zM572.43 116h1.7v5h-1.7zM574.01 113h1.7v3h-1.7zM575.6 94h1.7v19h-1.7zM577.19 81h1.7v13h-1.7zM583.54 131h1.7v4.1h-1.7zM586.72 125h1.7v11h-1.7zM591.48 134h1.7v4h-1.7zM593.07 132h1.7v2h-1.7zM594.65 131.3h1.7v0.7h-1.7zM596.24 125.6h1.7v5.7h-1.7zM597.83 119.8h1.7v5.8h-1.7zM599.41 114.1h1.7v5.7h-1.7zM601 112h1.7v2.1h-1.7zM602.59 110.6h1.7v1.4h-1.7zM605.76 114.1h1.7v3.4h-1.7zM610.53 125.6h1.7v1.1h-1.7zM612.12 118.7h1.7v6.9h-1.7zM613.7 111.8h1.7v6.9h-1.7zM615.29 100.3h1.7v11.5h-1.7zM616.88 99.1h1.7v1.2h-1.7zM626.4 114.1h1.7v4.6h-1.7zM629.58 118.7h1.7v3.4h-1.7zM631.16 98h1.7v20.7h-1.7zM632.75 94.5h1.7v3.5h-1.7zM634.34 81.9h1.7v12.6h-1.7zM637.51 73.8h1.7v10.4h-1.7zM639.1 70.4h1.7v3.4h-1.7zM640.69 69.2h1.7v1.2h-1.7zM647.04 75h1.7v3.4h-1.7zM648.63 73.8h1.7v1.2h-1.7zM653.39 62.3h1.7v24.2h-1.7zM654.98 58.9h1.7v3.4h-1.7z" fill="#0f9d86"/>
<path d="M-0.66 297.5h1.7v2.5h-1.7zM0.93 300h1.7v5.8h-1.7zM2.51 305.8h1.7v6.2h-1.7zM4.1 312h1.7v7.3h-1.7zM5.69 319.3h1.7v2h-1.7zM7.28 321.3h1.7v1.1h-1.7zM12.04 311h1.7v16.6h-1.7zM13.63 327.6h1.7v1h-1.7zM15.22 328.6h1.7v3.1h-1.7zM16.8 331.7h1.7v2.1h-1.7zM27.91 306.8h1.7v7.2h-1.7zM31.09 308.9h1.7v3.1h-1.7zM32.68 312h1.7v3.1h-1.7zM34.26 315.1h1.7v19.7h-1.7zM35.85 334.8h1.7v2.1h-1.7zM37.44 336.9h1.7v5.1h-1.7zM39.03 342h1.7v11.5h-1.7zM40.61 353.5h1.7v4.2h-1.7zM42.2 357.7h1.7v3.1h-1.7zM50.14 294.3h1.7v3.2h-1.7zM51.73 297.5h1.7v30.1h-1.7zM58.08 307.7h1.7v4.9h-1.7zM59.66 312.6h1.7v7.3h-1.7zM66.02 304h1.7v11h-1.7zM67.6 315h1.7v15.9h-1.7zM69.19 330.9h1.7v18.3h-1.7zM73.95 304h1.7v7.3h-1.7zM80.3 269.8h1.7v4.9h-1.7zM83.48 271h1.7v3.7h-1.7zM88.24 268.6h1.7v3.6h-1.7zM89.83 272.2h1.7v1.2h-1.7zM91.41 273.4h1.7v15.9h-1.7zM93 289.3h1.7v28.2h-1.7zM97.77 239.4h1.7v14.6h-1.7zM99.35 254h1.7v3h-1.7zM102.53 254h1.7v7.2h-1.7zM107.29 238.4h1.7v3.1h-1.7zM108.88 241.5h1.7v4.1h-1.7zM113.64 241.5h1.7v3.1h-1.7zM116.81 239.4h1.7v9.4h-1.7zM118.4 248.8h1.7v2h-1.7zM119.99 250.8h1.7v4.2h-1.7zM121.58 255h1.7v5.2h-1.7zM126.34 247.7h1.7v3.1h-1.7zM131.1 236.5h1.7v10.2h-1.7zM135.87 211.4h1.7v11.6h-1.7zM137.45 223h1.7v0.6h-1.7zM140.63 210h1.7v9.3h-1.7zM143.8 212h1.7v3h-1.7zM145.39 215h1.7v3h-1.7zM146.98 218h1.7v2.5h-1.7zM148.56 220.5h1.7v2.5h-1.7zM151.74 217.5h1.7v5.5h-1.7zM153.33 223h1.7v14.4h-1.7zM154.91 237.4h1.7v8.3h-1.7zM156.5 245.7h1.7v7.3h-1.7zM158.09 253h1.7v9.3h-1.7zM159.68 262.3h1.7v7.3h-1.7zM166.03 255h1.7v6.3h-1.7zM170.79 250.9h1.7v15.6h-1.7zM172.38 266.5h1.7v18.7h-1.7zM173.97 285.2h1.7v7.2h-1.7zM175.55 292.4h1.7v6.3h-1.7zM181.9 281h1.7v7.3h-1.7zM188.25 236.4h1.7v29.6h-1.7zM194.6 241.5h1.7v2.2h-1.7zM202.54 190.8h1.7v9.4h-1.7zM204.13 200.2h1.7v10.8h-1.7zM205.72 211h1.7v2.7h-1.7zM208.89 182.8h1.7v3.7h-1.7zM210.48 186.5h1.7v76.9h-1.7zM213.65 252h1.7v11.4h-1.7zM221.59 231h1.7v32.4h-1.7zM224.76 256.7h1.7v4h-1.7zM231.11 244.6h1.7v6.7h-1.7zM232.7 251.3h1.7v4h-1.7zM234.29 255.3h1.7v4.1h-1.7zM239.05 252.6h1.7v5.4h-1.7zM240.64 258h1.7v2h-1.7zM248.58 251.8h1.7v4.9h-1.7zM250.16 256.7h1.7v12.9h-1.7zM251.75 269.6h1.7v4.8h-1.7zM253.34 274.4h1.7v3.2h-1.7zM256.51 273.6h1.7v5.7h-1.7zM261.28 274.5h1.7v1.5h-1.7zM269.21 259.9h1.7v2.4h-1.7zM270.8 262.3h1.7v2.4h-1.7zM273.98 262.3h1.7v4.1h-1.7zM281.91 242.2h1.7v2.4h-1.7zM283.5 244.6h1.7v2.4h-1.7zM285.09 247h1.7v0.8h-1.7zM289.85 240.5h1.7v5.7h-1.7zM291.44 246.2h1.7v5.6h-1.7zM293.03 251.8h1.7v1.7h-1.7zM297.79 241.4h1.7v8h-1.7zM300.96 242.2h1.7v4h-1.7zM302.55 246.2h1.7v10.5h-1.7zM304.14 256.7h1.7v1.6h-1.7zM307.31 243h1.7v8.8h-1.7zM310.49 250.2h1.7v2.4h-1.7zM318.43 216.5h1.7v3.5h-1.7zM320.01 220h1.7v2h-1.7zM323.19 219h1.7v4.2h-1.7zM326.36 197.5h1.7v5.1h-1.7zM327.95 202.6h1.7v6.2h-1.7zM329.54 208.8h1.7v5.1h-1.7zM332.71 204.7h1.7v11.3h-1.7zM334.3 216h1.7v6.1h-1.7zM337.48 209.8h1.7v3.1h-1.7zM339.06 212.9h1.7v5.1h-1.7zM340.65 218h1.7v8.3h-1.7zM342.24 226.3h1.7v9.7h-1.7zM343.83 236h1.7v6.7h-1.7zM353.35 185.2h1.7v4.1h-1.7zM354.94 189.3h1.7v9.2h-1.7zM356.53 198.5h1.7v2.1h-1.7zM358.11 200.6h1.7v6.1h-1.7zM362.88 196h1.7v31.3h-1.7zM364.46 227.3h1.7v24.6h-1.7zM370.81 239.6h1.7v4.1h-1.7zM375.58 233.4h1.7v8.3h-1.7zM378.75 234.5h1.7v17.4h-1.7zM383.51 236.5h1.7v2.1h-1.7zM386.69 233.4h1.7v5.2h-1.7zM391.45 204.7h1.7v4.1h-1.7zM393.04 208.8h1.7v7.2h-1.7zM400.98 159.3h1.7v3.7h-1.7zM402.56 163h1.7v2.2h-1.7zM404.15 165.2h1.7v1.5h-1.7zM405.74 166.7h1.7v2.9h-1.7zM407.33 169.6h1.7v1.4h-1.7zM413.68 161.5h1.7v2.2h-1.7zM416.85 159.3h1.7v2.2h-1.7zM420.03 157.9h1.7v6.6h-1.7zM423.2 146.1h1.7v7.4h-1.7zM426.38 148.3h1.7v5.2h-1.7zM427.96 153.5h1.7v2.9h-1.7zM429.55 156.4h1.7v2.2h-1.7zM431.14 158.6h1.7v2.9h-1.7zM434.31 155.7h1.7v3.6h-1.7zM435.9 159.3h1.7v0.7h-1.7zM439.08 139.5h1.7v12.5h-1.7zM442.25 144h1.7v5h-1.7zM445.43 140.3h1.7v5.7h-1.7zM447.01 146h1.7v3h-1.7zM456.54 101.3h1.7v13.3h-1.7zM458.13 114.6h1.7v1.6h-1.7zM459.71 116.2h1.7v5h-1.7zM464.48 107.9h1.7v10h-1.7zM466.06 117.9h1.7v4.1h-1.7zM467.65 122h1.7v3.4h-1.7zM469.24 125.4h1.7v3.3h-1.7zM470.83 128.7h1.7v1.7h-1.7zM478.76 118.7h1.7v5h-1.7zM486.7 73.8h1.7v15.8h-1.7zM488.29 89.6h1.7v5h-1.7zM491.46 90.4h1.7v5.9h-1.7zM494.64 88.8h1.7v13.2h-1.7zM499.4 96.3h1.7v7.4h-1.7zM500.99 103.7h1.7v1.7h-1.7zM507.34 95.4h1.7v1.6h-1.7zM508.93 97h1.7v1h-1.7zM513.69 94.6h1.7v9.1h-1.7zM515.28 103.7h1.7v0.9h-1.7zM518.45 103h1.7v13h-1.7zM526.39 98h1.7v2h-1.7zM529.57 98h1.7v1.7h-1.7zM534.33 97h1.7v5h-1.7zM535.91 102h1.7v4h-1.7zM540.68 100h1.7v5h-1.7zM547.03 93h1.7v4h-1.7zM548.62 97h1.7v6h-1.7zM550.2 103h1.7v2h-1.7zM551.79 105h1.7v12.1h-1.7zM553.38 117.1h1.7v2h-1.7zM559.73 108h1.7v7h-1.7zM566.08 95h1.7v3h-1.7zM567.66 98h1.7v21.1h-1.7zM569.25 119.1h1.7v6h-1.7zM578.78 81h1.7v12h-1.7zM580.37 93h1.7v9h-1.7zM581.95 102h1.7v33.1h-1.7zM585.13 131h1.7v5h-1.7zM588.3 125h1.7v10h-1.7zM589.89 135h1.7v3h-1.7zM604.18 110.6h1.7v6.9h-1.7zM607.35 114.1h1.7v11.5h-1.7zM608.94 125.6h1.7v1.1h-1.7zM618.47 99.1h1.7v4.6h-1.7zM620.05 103.7h1.7v4.6h-1.7zM621.64 108.3h1.7v3.5h-1.7zM623.23 111.8h1.7v3.4h-1.7zM624.81 115.2h1.7v3.5h-1.7zM627.99 114.1h1.7v8h-1.7zM635.93 81.9h1.7v2.3h-1.7zM642.28 69.2h1.7v2.3h-1.7zM643.87 71.5h1.7v3.5h-1.7zM645.45 75h1.7v3.4h-1.7zM650.22 73.8h1.7v10.4h-1.7zM651.8 84.2h1.7v2.3h-1.7zM656.56 58.9h1.7v4.6h-1.7zM658.15 63.5h1.7v8h-1.7zM659.74 71.5h1.7v4h-1.7z" fill="#f0414f"/>
<path d="M1 75.55H720" stroke="#f23645" stroke-opacity="0.5" stroke-width="0.8" stroke-dasharray="1.9 1.12" fill="none"/>
<path d="M1 214.7H710M162.1 20V396" stroke="#b2b5be" stroke-width="0.8" stroke-dasharray="2.4 3.05" fill="none"/>
<text x="745.1" y="23.23" font-size="6.3" fill="#131722" text-anchor="end" textLength="20.6" lengthAdjust="spacingAndGlyphs">118,500</text>
<text x="745.1" y="38.55" font-size="6.3" fill="#131722" text-anchor="end" textLength="20.6" lengthAdjust="spacingAndGlyphs">118,000</text>
<text x="745.1" y="53.88" font-size="6.3" fill="#131722" text-anchor="end" textLength="20.6" lengthAdjust="spacingAndGlyphs">117,500</text>
<text x="745.1" y="69.2" font-size="6.3" fill="#131722" text-anchor="end" textLength="20.6" lengthAdjust="spacingAndGlyphs">117,000</text>
<text x="745.1" y="84.52" font-size="6.3" fill="#131722" text-anchor="end" textLength="20.6" lengthAdjust="spacingAndGlyphs">116,500</text>
<text x="745.1" y="99.85" font-size="6.3" fill="#131722" text-anchor="end" textLength="20.6" lengthAdjust="spacingAndGlyphs">116,000</text>
<text x="745.1" y="115.17" font-size="6.3" fill="#131722" text-anchor="end" textLength="20.6" lengthAdjust="spacingAndGlyphs">115,500</text>
<text x="745.1" y="130.5" font-size="6.3" fill="#131722" text-anchor="end" textLength="20.6" lengthAdjust="spacingAndGlyphs">115,000</text>
<text x="745.1" y="145.82" font-size="6.3" fill="#131722" text-anchor="end" textLength="20.6" lengthAdjust="spacingAndGlyphs">114,500</text>
<text x="745.1" y="161.15" font-size="6.3" fill="#131722" text-anchor="end" textLength="20.6" lengthAdjust="spacingAndGlyphs">114,000</text>
<text x="745.1" y="176.47" font-size="6.3" fill="#131722" text-anchor="end" textLength="20.6" lengthAdjust="spacingAndGlyphs">113,500</text>
<text x="745.1" y="191.8" font-size="6.3" fill="#131722" text-anchor="end" textLength="20.6" lengthAdjust="spacingAndGlyphs">113,000</text>
<text x="745.1" y="207.12" font-size="6.3" fill="#131722" text-anchor="end" textLength="20.6" lengthAdjust="spacingAndGlyphs">112,500</text>
<text x="745.1" y="222.45" font-size="6.3" fill="#131722" text-anchor="end" textLength="20.6" lengthAdjust="spacingAndGlyphs">112,000</text>
<text x="745.1" y="237.77" font-size="6.3" fill="#131722" text-anchor="end" textLength="20.6" lengthAdjust="spacingAndGlyphs">111,500</text>
<text x="745.1" y="253.1" font-size="6.3" fill="#131722" text-anchor="end" textLength="20.6" lengthAdjust="spacingAndGlyphs">111,000</text>
<text x="745.1" y="268.43" font-size="6.3" fill="#131722" text-anchor="end" textLength="20.6" lengthAdjust="spacingAndGlyphs">110,500</text>
<text x="745.1" y="283.75" font-size="6.3" fill="#131722" text-anchor="end" textLength="20.6" lengthAdjust="spacingAndGlyphs">110,000</text>
<text x="745.1" y="299.07" font-size="6.3" fill="#131722" text-anchor="end" textLength="20.6" lengthAdjust="spacingAndGlyphs">109,500</text>
<text x="745.1" y="314.4" font-size="6.3" fill="#131722" text-anchor="end" textLength="20.6" lengthAdjust="spacingAndGlyphs">109,000</text>
<text x="745.1" y="329.73" font-size="6.3" fill="#131722" text-anchor="end" textLength="20.6" lengthAdjust="spacingAndGlyphs">108,500</text>
<text x="745.1" y="345.05" font-size="6.3" fill="#131722" text-anchor="end" textLength="20.6" lengthAdjust="spacingAndGlyphs">108,000</text>
<text x="745.1" y="360.38" font-size="6.3" fill="#131722" text-anchor="end" textLength="20.6" lengthAdjust="spacingAndGlyphs">107,500</text>
<text x="745.1" y="375.7" font-size="6.3" fill="#131722" text-anchor="end" textLength="20.6" lengthAdjust="spacingAndGlyphs">107,000</text>
<text x="745.1" y="391.02" font-size="6.3" fill="#131722" text-anchor="end" textLength="20.6" lengthAdjust="spacingAndGlyphs">106,500</text>
<rect x="0" y="0" width="750" height="18" fill="#fff"/>
<rect x="0" y="17.7" width="750" height="2.2" fill="#eaebed"/>
<rect x="0.6" y="20" width="0.7" height="376" fill="#eef0f3"/>
<rect x="720" y="71.5" width="27.9" height="15.4" rx="0.9" fill="#f23645"/>
<text x="724.5" y="78.1" font-size="6.7" fill="#fff" textLength="20.5" lengthAdjust="spacingAndGlyphs">116,732</text>
<text x="724.5" y="85" font-size="6.2" fill="#fff" fill-opacity="0.88" textLength="14.1" lengthAdjust="spacingAndGlyphs">35:39</text>
<rect x="720" y="388" width="13" height="7.8" rx="0.6" fill="#f23645"/>
<text x="727.7" y="394.5" font-size="6.2" fill="#fff" text-anchor="middle" font-weight="bold">10</text>
<rect x="709.7" y="209.3" width="38.2" height="10.4" rx="1" fill="#131722"/>
<path d="M720.6 209.3V219.7" stroke="#4a4e59" stroke-width="0.5"/>
<circle cx="715.1" cy="214.5" r="2.9" fill="none" stroke="#fff" stroke-width="0.55"/>
<path d="M713.5 214.5H716.7M715.1 212.9V216.1" stroke="#fff" stroke-width="0.55"/>
<text x="745.1" y="216.8" font-size="6.3" fill="#fff" text-anchor="end" font-weight="bold" textLength="20.8" lengthAdjust="spacingAndGlyphs">112,201</text>
<rect x="0" y="396.3" width="750" height="12.7" fill="#fff"/>
<text x="36.7" y="405.2" font-size="6.1" fill="#131722" text-anchor="middle">Sep</text>
<text x="74.8" y="405.2" font-size="6.1" fill="#131722" text-anchor="middle">2</text>
<text x="112.9" y="405.2" font-size="6.1" fill="#131722" text-anchor="middle">3</text>
<text x="227.2" y="405.2" font-size="6.1" fill="#131722" text-anchor="middle">6</text>
<text x="265.3" y="405.2" font-size="6.1" fill="#131722" text-anchor="middle">7</text>
<text x="303.4" y="405.2" font-size="6.1" fill="#131722" text-anchor="middle">8</text>
<text x="341.5" y="405.2" font-size="6.1" fill="#131722" text-anchor="middle">9</text>
<text x="379.6" y="405.2" font-size="6.1" fill="#131722" text-anchor="middle">10</text>
<text x="417.7" y="405.2" font-size="6.1" fill="#131722" text-anchor="middle">11</text>
<text x="455.8" y="405.2" font-size="6.1" fill="#131722" text-anchor="middle">12</text>
<text x="493.9" y="405.2" font-size="6.1" fill="#131722" text-anchor="middle">13</text>
<text x="532" y="405.2" font-size="6.1" fill="#131722" text-anchor="middle">14</text>
<text x="570.1" y="405.2" font-size="6.1" fill="#131722" text-anchor="middle">15</text>
<text x="608.2" y="405.2" font-size="6.1" fill="#131722" text-anchor="middle">16</text>
<text x="646.3" y="405.2" font-size="6.1" fill="#131722" text-anchor="middle">17</text>
<text x="684.4" y="405.2" font-size="6.1" fill="#131722" text-anchor="middle">18</text>
<rect x="128.5" y="396.3" width="67" height="11.5" rx="1.2" fill="#131722"/>
<text x="133.6" y="405.3" font-size="6" fill="#fff" textLength="37.9" lengthAdjust="spacingAndGlyphs">Thu 04 Sep '25</text>
<text x="176.5" y="405.3" font-size="6" fill="#fff" textLength="14.9" lengthAdjust="spacingAndGlyphs">07:00</text>
<polygon points="738.80,403.40 737.15,406.26 733.85,406.26 732.20,403.40 733.85,400.54 737.15,400.54" fill="none" stroke="#131722" stroke-width="0.7" stroke-linejoin="round"/><circle cx="735.5" cy="403.4" r="1.05" fill="none" stroke="#131722" stroke-width="0.6"/>
<circle cx="660.4" cy="390" r="4.5" fill="#fff" stroke="#a486ee" stroke-width="0.6"/>
<path d="M653.2 391.7l2.2-1.9 2.2 1.9-2.2 1.9z" fill="#5f74f6"/>
<g><circle cx="665.3" cy="389.6" r="5" fill="#fff" stroke="#f4505d" stroke-width="0.85"/>
<clipPath id="c665"><circle cx="665.3" cy="389.6" r="3.9"/></clipPath>
<g clip-path="url(#c665)"><rect x="660.3" y="385" width="10" height="10" fill="#fff"/>
<rect x="660.3" y="385.7" width="10" height="0.9" fill="#f0606b"/>
<rect x="660.3" y="387.5" width="10" height="0.9" fill="#f0606b"/>
<rect x="660.3" y="389.3" width="10" height="0.9" fill="#f0606b"/>
<rect x="660.3" y="391.1" width="10" height="0.9" fill="#f0606b"/>
<rect x="660.3" y="392.9" width="10" height="0.9" fill="#f0606b"/>
<rect x="660.3" y="385" width="5.7" height="5.3" fill="#4b96ea"/></g></g>
<g><circle cx="675.5" cy="389.6" r="5" fill="#fff" stroke="#f4505d" stroke-width="0.85"/>
<clipPath id="c675"><circle cx="675.5" cy="389.6" r="3.9"/></clipPath>
<g clip-path="url(#c675)"><rect x="670.5" y="385" width="10" height="10" fill="#fff"/>
<rect x="670.5" y="385.7" width="10" height="0.9" fill="#f0606b"/>
<rect x="670.5" y="387.5" width="10" height="0.9" fill="#f0606b"/>
<rect x="670.5" y="389.3" width="10" height="0.9" fill="#f0606b"/>
<rect x="670.5" y="391.1" width="10" height="0.9" fill="#f0606b"/>
<rect x="670.5" y="392.9" width="10" height="0.9" fill="#f0606b"/>
<rect x="670.5" y="385" width="5.7" height="5.3" fill="#4b96ea"/></g></g>
<g fill="#131722"><path d="M6 382.3h6.7v6.1h-3.4v-3.3H6z"/><circle cx="14.5" cy="383.6" r="1.3"/><path d="M18 382.3h3.4l-2.9 6.1h-3.5z"/></g>
<text x="25.3" y="388.4" font-size="8.8" stroke="#131722" stroke-width="0.38" fill="#131722" textLength="59" lengthAdjust="spacingAndGlyphs">TradingView</text>
<g fill="none" stroke="#131722" stroke-width="0.75" stroke-linecap="round">
<circle cx="6.8" cy="8" r="2.45"/><path d="M8.6 9.8L10.6 11.8"/>
<circle cx="57.1" cy="8.7" r="4.7" stroke-width="0.6"/><path d="M54.9 8.7H59.3M57.1 6.5V10.9" stroke-width="0.6"/>
</g>
<text x="14.5" y="11" font-size="6.7" font-weight="bold" fill="#131722" textLength="25.2" lengthAdjust="spacingAndGlyphs">BTCUSD</text>
<text x="76.9" y="11" font-size="6.7" fill="#131722">1h</text>
<path d="M69.2 3.5V14M92 3.5V14M114.9 3.5V14M192.8 3.5V14M279.4 3.5V14" stroke="#eceef2" stroke-width="0.6"/>
<g fill="none" stroke="#131722" stroke-width="0.6">
<rect x="100.4" y="5.3" width="2.2" height="6.6" rx="0.3"/><path d="M101.5 3.6V5.3M101.5 11.9V13.6"/>
<rect x="104.8" y="6.4" width="2.2" height="4.4" rx="0.3"/><path d="M105.9 5V6.4M105.9 10.8V12.2"/>
</g>
<g fill="none" stroke="#131722" stroke-width="0.6" stroke-linejoin="round" stroke-linecap="round">
<path d="M122.3 8.2L125.2 5.6 127.2 7 131 4.2"/>
<path d="M122.2 12.5H131.4M123.6 12.5V10.6H125.4V12.5M126.4 12.5V9.4H128.2V12.5M129.2 12.5V8H131V12.5"/>
</g>
<text x="136" y="11" font-size="6.7" fill="#131722" textLength="30.6" lengthAdjust="spacingAndGlyphs">Indicators</text>
<g fill="none" stroke="#131722" stroke-width="0.6">
<rect x="176.3" y="4.6" width="3.8" height="3.2" rx="1.3"/>
<rect x="181.3" y="4.6" width="3.8" height="3.2" rx="1.3"/>
<rect x="176.3" y="9.6" width="3.8" height="3.2" rx="1.3"/>
<rect x="181.3" y="9.6" width="3.8" height="3.2" rx="1.3"/>
</g>
<g fill="none" stroke="#131722" stroke-width="0.6" stroke-linecap="round">
<path d="M207.4 10.2A3.9 3.9 0 1 1 207.9 8.4"/><path d="M204 6.2V8.6H202.3"/><path d="M199.6 5.6L201.2 4.2M208.4 5.6L206.8 4.2"/><path d="M206.2 11.6H209.4M207.8 10V13.2"/>
</g>
<text x="212.9" y="11" font-size="6.7" fill="#131722" textLength="15.1" lengthAdjust="spacingAndGlyphs">Alert</text>
<g fill="none" stroke="#131722" stroke-width="0.6" stroke-linejoin="round">
<path d="M242.4 6L239.2 8.7 242.4 11.4z"/><path d="M246.6 6L243.4 8.7 246.6 11.4z"/>
</g>
<text x="251.5" y="11" font-size="6.7" fill="#131722" textLength="20.6" lengthAdjust="spacingAndGlyphs">Replay</text>
<g fill="none" stroke-width="0.7" stroke-linecap="round" stroke-linejoin="round">
<path d="M289 6L287 7.8 289 9.6M287.2 7.8H291.6A2.4 2.4 0 0 1 294 10.2V10.8" stroke="#131722"/>
<path d="M310.8 6L312.8 7.8 310.8 9.6M312.6 7.8H308.2A2.4 2.4 0 0 0 305.8 10.2V10.8" stroke="#b2b5be"/>
</g>
<rect x="747.2" y="4.5" width="6" height="8.2" rx="1.2" fill="none" stroke="#131722" stroke-width="0.7"/>
<circle cx="9.1" cy="27.9" r="3.8" fill="#f7931a"/>
<text x="9.1" y="29.9" font-size="5.2" font-weight="bold" fill="#fff" text-anchor="middle">₿</text>
<text x="15.8" y="30.7" font-size="8.2" stroke="#131722" stroke-width="0.12" fill="#131722" textLength="24.2" lengthAdjust="spacingAndGlyphs">Bitcoin</text>
<text x="43.4" y="30.7" font-size="8.2" stroke="#131722" stroke-width="0.12" fill="#131722" textLength="2.4" lengthAdjust="spacingAndGlyphs">/</text>
<text x="50" y="30.7" font-size="8.2" stroke="#131722" stroke-width="0.12" fill="#131722" textLength="13.6" lengthAdjust="spacingAndGlyphs">U.S.</text>
<text x="67" y="30.7" font-size="8.2" stroke="#131722" stroke-width="0.12" fill="#131722" textLength="20" lengthAdjust="spacingAndGlyphs">Dollar</text>
<text x="94" y="30.7" font-size="8.2" stroke="#131722" stroke-width="0.12" fill="#131722" textLength="8" lengthAdjust="spacingAndGlyphs">1h</text>
<text x="108" y="30.7" font-size="8.2" stroke="#131722" stroke-width="0.12" fill="#131722" textLength="30.6" lengthAdjust="spacingAndGlyphs">Bitstamp</text>
<circle cx="90.7" cy="28.1" r="0.8" fill="#131722"/><circle cx="105" cy="28.1" r="0.8" fill="#131722"/>
<circle cx="151.2" cy="27.7" r="4.3" fill="#089981" fill-opacity="0.15"/><circle cx="151.2" cy="27.7" r="1.9" fill="#089981"/>
<text y="30.1" font-size="5.9" fill="#089981" x="163.6" textLength="27.8" lengthAdjust="spacingAndGlyphs"><tspan fill="#434651">O</tspan>110,424</text>
<text y="30.1" font-size="5.9" fill="#089981" x="194.5" textLength="27.3" lengthAdjust="spacingAndGlyphs"><tspan fill="#434651">H</tspan>110,663</text>
<text y="30.1" font-size="5.9" fill="#089981" x="224.9" textLength="25.8" lengthAdjust="spacingAndGlyphs"><tspan fill="#434651">L</tspan>110,386</text>
<text y="30.1" font-size="5.9" fill="#089981" x="254.5" textLength="26.4" lengthAdjust="spacingAndGlyphs"><tspan fill="#434651">C</tspan>110,506</text>
<text y="30.1" font-size="5.9" fill="#089981" x="283.9" textLength="9.9" lengthAdjust="spacingAndGlyphs"><tspan fill="#434651"></tspan>+82</text>
<text y="30.1" font-size="5.9" fill="#089981" x="296.6" textLength="23.8" lengthAdjust="spacingAndGlyphs"><tspan fill="#434651"></tspan>(+0.07%)</text>
<rect x="4.4" y="35.7" width="34.2" height="16.6" rx="3" fill="#fff" stroke="#f7525f" stroke-opacity="0.75" stroke-width="0.6"/>
<text x="21.5" y="43.1" font-size="6.7" fill="#f23645" text-anchor="middle" textLength="22" lengthAdjust="spacingAndGlyphs">116,731</text>
<text x="21.5" y="49.4" font-size="6" fill="#f23645" text-anchor="middle" textLength="11.6" lengthAdjust="spacingAndGlyphs">SELL</text>
<text x="43.8" y="45.5" font-size="4.6" fill="#131722" text-anchor="middle">1</text>
<rect x="49.1" y="35.7" width="33.4" height="16.6" rx="3" fill="#fff" stroke="#2962ff" stroke-opacity="0.75" stroke-width="0.6"/>
<text x="65.8" y="43.1" font-size="6.7" fill="#2962ff" text-anchor="middle" textLength="22" lengthAdjust="spacingAndGlyphs">116,732</text>
<text x="65.8" y="49.4" font-size="6" fill="#2962ff" text-anchor="middle" textLength="9.6" lengthAdjust="spacingAndGlyphs">BUY</text>
<text x="5" y="62.8" font-size="6.3" fill="#131722" textLength="9.4" lengthAdjust="spacingAndGlyphs">Vol</text><circle cx="17" cy="60.7" r="0.65" fill="#131722"/><text x="19.7" y="62.8" font-size="6.3" fill="#131722" textLength="11.1" lengthAdjust="spacingAndGlyphs">BTC</text>
<text x="35.2" y="62.8" font-size="6.3" fill="#26a69a" textLength="6.8" lengthAdjust="spacingAndGlyphs">85</text>
<rect x="4.4" y="68" width="14.4" height="9.4" rx="1.6" fill="#fff" stroke="#e0e3eb" stroke-width="0.6"/>
<path d="M9.8 73.7L11.6 71.9 13.4 73.7" fill="none" stroke="#131722" stroke-width="0.75" stroke-linecap="round" stroke-linejoin="round"/>
</svg>
</body></html>
